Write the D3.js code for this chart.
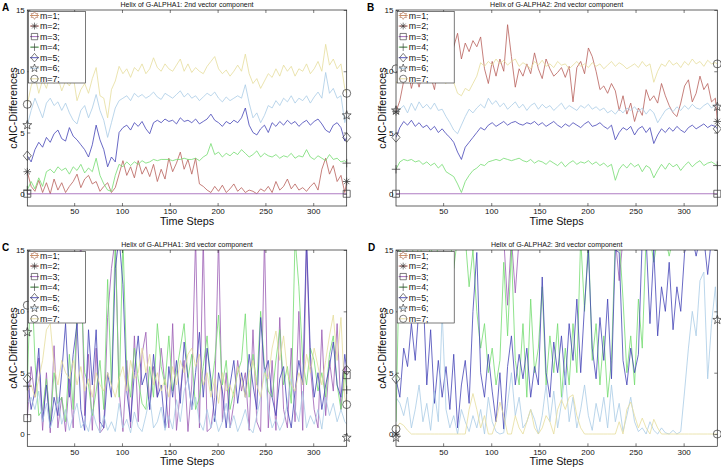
<!DOCTYPE html>
<html>
<head>
<meta charset="utf-8">
<script src="https://cdn.jsdelivr.net/npm/d3@7"></script>
<style>
body { margin: 0; background: #fff; }
text { font-family: "Liberation Sans", Arial, sans-serif; }
</style>
</head>
<body>
<svg class="chart" width="721" height="468"></svg>
<script>
var timeSteps = d3.range(1, 334, 4).concat([335]);
var zeroSteps = [1, 335];
var zeroLine = [0, 0];

var seriesNames = ["m=1;", "m=2;", "m=3;", "m=4;", "m=5;", "m=6;", "m=7;"];
var markerKinds = ["hexagram", "asterisk", "square", "plus", "diamond", "pentagram", "circle"];
var lineColors = ["#c98a5e", "#b8605a", "#9a5cb4", "#74dc70", "#4444b6", "#a9cbe6", "#e6dd9c"];
var xTicks = [50, 100, 150, 200, 250, 300];
var yTicks = [0, 5, 10, 15];
var titles = ["Helix of G-ALPHA1: 2nd vector component", "Helix of G-ALPHA2: 2nd vector component",
              "Helix of G-ALPHA1: 3rd vector component", "Helix of G-ALPHA2: 3rd vector component"];
var letters = ["A", "B", "C", "D"];

// panel A
var aM2 = [1.8, 0.6, 0.2, 1.1, 0.1, 0.9, 0.0, 1.2, 0.3, 0.9,
           0.1, 0.6, 1.0, 1.6, 0.5, 1.2, 1.5, 0.8, 1.0, 0.2,
           0.6, 0.9, 0.1, 0.5, 1.6, 2.7, 1.5, 2.2, 1.3, 2.7,
           1.6, 2.2, 1.4, 2.4, 1.0, 2.0, 1.2, 2.9, 1.8, 2.5,
           3.4, 2.0, 2.8, 1.6, 2.9, 0.8, 0.6, 0.3, 0.1, 0.6,
           0.2, 0.7, 0.1, 0.4, 0.8, 0.2, 0.5, 0.1, 0.3, 0.2,
           0.0, 0.4, 0.2, 0.6, 0.1, 1.0, 0.3, 0.6, 1.2, 0.4,
           0.8, 0.3, 0.5, 0.2, 0.6, 0.9, 0.3, 2.0, 2.9, 1.6,
           2.3, 1.0, 1.5, 0.1, 1.0];
var aM4 = [0.3, 1.0, 0.4, 1.3, 0.6, 1.8, 2.0, 1.7, 2.2, 1.9,
           2.1, 1.6, 2.2, 1.9, 2.4, 1.7, 2.1, 1.8, 2.9, 1.5,
           0.8, 0.3, 0.2, 1.5, 2.4, 2.2, 2.6, 2.3, 2.6, 2.4,
           2.7, 2.5, 2.6, 2.8, 2.7, 2.8, 2.8, 2.8, 2.7, 2.8,
           2.8, 2.9, 2.8, 2.8, 2.9, 2.7, 3.0, 3.2, 4.1, 3.2,
           3.4, 3.0, 3.3, 3.1, 3.4, 3.2, 3.6, 3.3, 3.0, 3.2,
           3.5, 3.0, 3.3, 3.1, 3.0, 3.2, 2.9, 3.1, 3.0, 3.3,
           2.9, 3.1, 3.0, 3.6, 3.0, 2.8, 3.1, 2.9, 2.7, 3.2,
           2.8, 2.9, 2.6, 2.7, 2.5];
var aM5 = [3.1, 2.6, 3.6, 4.2, 3.8, 4.6, 4.2, 4.9, 5.2, 4.5,
           4.3, 5.4, 4.7, 4.4, 4.0, 3.6, 3.0, 4.0, 5.6, 4.4,
           3.6, 2.2, 3.0, 2.6, 5.0, 5.4, 5.6, 5.2, 5.8, 5.5,
           5.9, 5.3, 4.9, 5.8, 6.0, 5.8, 6.1, 5.9, 6.0, 5.7,
           6.2, 5.9, 6.0, 5.8, 6.1, 5.7, 5.9, 6.1, 6.5, 6.0,
           5.8, 5.5, 5.9, 5.7, 6.0, 5.8, 6.2, 7.0, 5.6, 5.0,
           4.8, 5.3, 5.6, 5.0, 5.8, 5.5, 5.9, 5.6, 6.0, 5.7,
           5.9, 5.5, 5.8, 6.0, 5.6, 5.9, 6.1, 5.7, 5.2, 5.0,
           5.6, 5.8, 5.4, 4.3, 4.6];
var aM6 = [5.6, 6.8, 7.8, 7.0, 6.2, 7.4, 7.8, 7.2, 7.5, 6.8,
           7.4, 6.6, 6.0, 5.7, 6.8, 7.2, 6.2, 7.0, 8.1, 6.8,
           6.0, 4.6, 5.8, 7.0, 7.6, 7.8, 8.0, 7.6, 8.2, 7.9,
           8.1, 7.8, 8.0, 8.3, 7.9, 7.7, 8.2, 8.0, 7.8, 8.1,
           8.4, 7.9, 8.2, 7.8, 8.0, 7.6, 7.9, 8.2, 8.0, 8.3,
           7.8, 7.5, 7.9, 7.6, 7.8, 8.0, 7.8, 8.9, 7.4, 6.2,
           6.6, 5.8, 6.4, 7.2, 7.0, 7.6, 7.2, 7.8, 7.5, 8.0,
           7.4, 7.8, 7.6, 8.0, 7.4, 7.9, 8.3, 7.8, 9.9, 8.2,
           8.6, 7.8, 8.0, 5.8, 6.4];
var aM7 = [7.3, 8.8, 9.6, 8.2, 9.3, 8.6, 9.8, 9.0, 9.5, 8.4,
           9.2, 8.8, 9.6, 7.6, 8.5, 9.0, 8.2, 9.4, 10.3, 8.0,
           7.8, 6.2, 8.5, 9.2, 10.4, 9.8, 10.2, 9.5, 10.3, 10.0,
           10.6, 9.8, 10.2, 11.1, 10.3, 10.0, 10.6, 10.2, 10.0, 10.5,
           11.0, 10.0, 10.6, 9.9, 10.3, 10.0, 9.8, 10.4, 10.8, 11.2,
           10.2, 9.8, 10.1, 9.6, 10.0, 10.5, 10.0, 11.4, 9.8, 9.0,
           9.4, 8.6, 9.2, 9.8, 9.5, 10.2, 9.6, 10.5, 10.0, 10.4,
           9.6, 10.2, 10.0, 10.6, 9.8, 10.2, 10.8, 10.0, 12.2, 10.5,
           11.0, 10.2, 10.6, 8.6, 8.2];
var aStart = [null, 1.8, 0, 0.3, 3.1, 5.6, 7.3];
var aEnd = [null, 1.0, 0, 2.5, 4.6, 6.4, 8.2];

// panel B
var bM2 = [6.7, 7.6, 9.2, 10.3, 8.6, 9.8, 8.7, 10.0, 9.1, 9.6,
           8.5, 10.6, 9.2, 12.4, 10.0, 12.0, 13.1, 11.0, 12.3, 11.6,
           12.5, 12.0, 12.8, 10.2, 9.0, 10.8, 9.6, 11.0, 10.0, 13.8,
           11.2, 8.7, 10.2, 9.6, 10.6, 9.8, 11.5, 10.2, 9.4, 11.0,
           10.2, 9.6, 9.9, 10.3, 9.5, 10.4, 7.5, 10.3, 10.8, 9.8,
           11.9, 11.2, 10.0, 8.5, 8.8, 8.2, 9.0, 8.4, 6.8, 8.0,
           6.5, 7.4, 5.9, 7.0, 6.4, 8.5, 7.6, 8.0, 7.4, 9.0,
           8.0, 7.2, 6.6, 6.3, 7.4, 8.8, 9.3, 7.5, 8.2, 9.6,
           8.5, 9.0, 7.5, 7.8, 6.0];
var bM4 = [2.0, 2.6, 2.8, 2.7, 2.8, 2.6, 2.7, 2.4, 2.6, 2.3,
           2.5, 2.1, 2.4, 1.8, 1.6, 1.4, 0.8, 0.1, 1.0, 1.5,
           1.9, 2.1, 2.4, 2.3, 2.6, 2.7, 2.8, 2.7, 2.9, 2.8,
           2.7, 2.8, 2.9, 2.7, 2.6, 2.8, 2.5, 2.7, 2.6, 2.4,
           2.7, 2.5, 2.3, 2.6, 2.2, 2.5, 2.7, 2.4, 2.6, 2.5,
           2.7, 2.4, 2.6, 2.3, 2.5, 2.2, 2.4, 1.1, 2.0, 2.4,
           2.1, 2.5, 2.2, 2.4, 1.8, 2.3, 2.1, 1.3, 1.9, 2.4,
           2.0, 2.5, 2.2, 2.4, 1.9, 2.3, 2.6, 2.2, 2.5, 2.7,
           2.3, 2.5, 2.6, 2.4, 2.3];
var bM5 = [4.6, 5.4, 5.9, 5.6, 6.0, 5.5, 5.8, 5.4, 5.6, 5.2,
           5.5, 5.0, 5.3, 4.9, 4.6, 4.2, 3.4, 2.8, 3.8, 4.2,
           4.6, 5.0, 5.4, 5.2, 5.6, 5.8, 5.5, 5.7, 5.9, 5.6,
           5.8, 5.9, 5.7, 5.6, 5.8, 5.7, 5.9, 5.6, 5.8, 5.5,
           5.7, 5.9, 5.6, 5.4, 5.7, 5.5, 5.8, 5.6, 5.4, 5.7,
           5.9, 5.5, 5.6, 5.8, 5.5, 5.3, 5.6, 4.4, 5.0, 5.4,
           5.2, 5.5, 4.8, 5.3, 5.5, 5.0, 5.4, 4.1, 4.8, 5.3,
           5.0, 5.4, 5.1, 5.5, 5.2, 5.0, 5.4, 5.6, 5.3, 5.5,
           5.7, 5.4, 5.6, 5.5, 5.3];
var bM6 = [6.7, 6.9, 7.2, 6.6, 7.4, 6.8, 7.5, 7.0, 7.3, 6.9,
           7.4, 6.8, 6.9, 6.3, 5.8, 5.2, 4.9, 5.6, 6.3, 6.9,
           6.6, 7.0, 7.3, 7.0, 7.8, 7.3, 7.6, 7.1, 7.4, 6.9,
           7.2, 7.5, 7.0, 7.3, 6.8, 7.2, 7.4, 6.9, 7.3, 7.0,
           7.2, 6.8, 7.1, 7.4, 6.9, 7.2, 7.0, 6.8, 7.2, 7.0,
           7.3, 6.9, 7.1, 6.8, 7.0, 6.6, 6.8, 6.5, 6.9, 6.6,
           7.0, 6.8, 7.1, 6.7, 7.0, 6.5, 6.9, 6.6, 5.8, 6.3,
           6.8, 7.0, 6.7, 7.1, 6.8, 7.2, 6.9, 7.3, 7.0, 6.9,
           7.2, 7.4, 7.0, 7.3, 7.1];
var bM7 = [9.0, 9.6, 9.3, 9.8, 9.5, 9.9, 9.4, 9.7, 9.5, 9.8,
           9.4, 9.6, 9.2, 9.0, 9.4, 9.1, 8.2, 8.0, 8.6, 8.4,
           9.0, 9.6, 10.7, 10.4, 10.8, 10.5, 11.0, 10.6, 10.9, 10.5,
           10.8, 11.0, 10.4, 10.7, 10.5, 10.2, 10.8, 10.5, 10.9, 10.4,
           10.6, 10.3, 10.8, 10.5, 10.6, 10.2, 10.5, 10.8, 10.4, 10.6,
           10.3, 10.7, 10.4, 10.6, 10.2, 10.5, 10.8, 10.4, 10.7, 10.5,
           10.2, 10.4, 10.6, 10.3, 10.8, 10.4, 10.6, 9.1, 10.0, 10.6,
           10.4, 10.9, 10.5, 10.7, 10.3, 10.8, 10.5, 11.0, 10.6, 10.8,
           10.4, 10.9, 10.6, 10.7, 10.6];
var bStart = [null, 6.7, 0, 2.0, 4.6, 6.8, 10.2];
var bEnd = [null, 5.9, 0, 2.3, 5.3, 7.1, 10.6];

// panel C
var cM3 = [1.3, 5.5, 3.0, 6.2, 0.3, 5.0, 0.1, 7.2, 0.5, 3.0,
           0.2, 4.5, 0.5, 9.0, 16.0, 1.5, 6.5, 0.3, 7.0, 0.1,
           0.5, 9.5, 13.5, 16.0, 3.5, 0.2, 6.0, 0.5, 8.0, 1.0,
           6.5, 8.3, 2.0, 5.5, 3.0, 7.0, 4.0, 0.5, 9.0, 0.3,
           3.5, 6.0, 0.2, 4.0, 16.0, 0.5, 16.0, 0.2, 0.5, 3.0,
           16.0, 1.0, 5.0, 0.5, 2.5, 6.0, 3.5, 5.0, 0.3, 8.5,
           1.0, 0.2, 16.0, 0.5, 6.0, 0.3, 9.5, 2.0, 0.5, 7.0,
           1.0, 10.0, 0.3, 15.5, 5.5, 2.0, 0.5, 8.5, 1.5, 6.0,
           3.5, 9.0, 2.0, 5.5, 4.8];
var cM4 = [3.9, 14.0, 6.0, 1.5, 2.0, 4.5, 1.0, 5.0, 2.5, 3.0,
           1.0, 6.5, 2.0, 10.0, 12.0, 5.0, 4.0, 1.5, 3.5, 6.0,
           2.0, 12.6, 4.0, 16.0, 3.0, 16.0, 5.0, 3.0, 7.0, 4.5,
           2.5, 2.0, 5.5, 3.0, 9.0, 5.5, 4.0, 8.0, 3.5, 5.0,
           7.0, 9.0, 4.5, 6.5, 2.0, 3.0, 5.5, 8.0, 3.5, 6.0,
           9.7, 4.0, 6.0, 2.0, 3.5, 5.0, 6.0, 9.8, 3.0, 6.5,
           4.0, 10.0, 5.5, 3.5, 3.0, 6.0, 8.5, 4.0, 5.5, 2.5,
           16.0, 12.0, 6.0, 4.0, 7.0, 6.0, 3.5, 5.0, 3.0, 6.5,
           8.0, 4.0, 2.0, 5.0, 3.6];
var cM5 = [4.5, 2.0, 3.5, 7.0, 1.0, 4.0, 0.5, 3.0, 1.5, 5.0,
           9.0, 3.0, 6.5, 9.0, 2.0, 0.3, 8.5, 4.0, 8.5, 1.0,
           0.5, 5.0, 3.0, 13.5, 16.0, 12.2, 3.5, 1.0, 5.0, 8.0,
           4.0, 5.0, 2.0, 6.5, 3.0, 4.0, 0.5, 5.5, 3.0, 6.0,
           2.5, 7.5, 4.5, 2.0, 5.0, 8.3, 3.0, 7.0, 4.5, 1.0,
           5.0, 3.5, 0.5, 4.0, 6.0, 2.5, 5.0, 3.0, 6.5, 4.0,
           2.0, 9.5, 5.0, 6.0, 3.0, 1.5, 4.5, 5.5, 2.0, 0.5,
           3.5, 6.0, 4.0, 16.0, 6.5, 3.0, 5.0, 2.0, 4.0, 5.5,
           7.5, 4.0, 3.0, 6.5, 5.2];
var cM6 = [2.5, 3.0, 2.0, 3.5, 1.0, 2.5, 0.5, 1.5, 3.0, 0.8,
           2.0, 0.3, 1.5, 2.5, 0.5, 1.0, 0.2, 2.0, 0.8, 0.1,
           1.5, 0.3, 1.0, 0.2, 2.5, 0.5, 1.2, 0.1, 1.8, 0.6,
           0.2, 1.5, 3.0, 0.5, 1.0, 2.2, 0.3, 1.5, 0.4, 2.8,
           1.0, 3.5, 4.6, 2.0, 3.0, 1.0, 0.3, 2.0, 0.5, 1.5,
           0.2, 1.0, 2.5, 0.5, 1.5, 0.2, 1.0, 2.0, 0.5, 0.1,
           1.5, 3.0, 5.3, 2.0, 0.5, 1.2, 0.3, 1.0, 2.5, 4.5,
           2.0, 1.0, 3.5, 0.5, 1.5, 0.8, 2.0, 0.4, 3.0, 1.5,
           2.5, 1.0, 2.0, 1.0, 0.8];
var cM7 = [3.5, 4.0, 3.0, 4.5, 6.0, 8.5, 9.0, 5.5, 4.0, 6.0,
           5.0, 4.5, 6.0, 4.0, 5.5, 3.5, 4.5, 3.0, 5.0, 4.0,
           3.5, 5.0, 4.0, 3.0, 4.5, 5.5, 3.5, 6.0, 4.5, 5.0,
           7.0, 5.0, 6.5, 4.0, 5.0, 3.5, 4.5, 3.0, 5.5, 4.0,
           6.0, 5.0, 6.5, 7.0, 5.5, 6.5, 4.0, 5.0, 3.0, 4.5,
           2.5, 5.0, 3.5, 4.0, 3.0, 5.5, 4.5, 3.0, 5.0, 6.0,
           4.0, 3.0, 5.0, 4.5, 7.0, 8.4, 6.0, 8.0, 5.0, 4.0,
           3.5, 5.0, 4.0, 6.5, 5.0, 7.0, 5.5, 4.0, 6.0, 8.0,
           9.7, 6.0, 9.5, 3.0, 2.4];
var cStart = [null, null, 1.3, 3.9, 4.5, 8.3, 10.5];
var cEnd = [null, null, 4.8, 3.6, 5.2, -0.3, 2.4];

// panel D
var dM3 = [16, 16, 16, 16, 16, 16, 16, 16, 16, 16,
           16, 16, 16, 16, 16, 16, 16, 16, 16, 16,
           16, 16, 16, 16, 16, 16, 16, 16, 16, 10.5,
           16, 11.5, 16, 16, 16, 16, 16, 16, 16, 16,
           16, 16, 16, 16, 16, 16, 16, 16, 16, 16,
           16, 16, 16, 16, 16, 16, 16, 16, 12.5, 16,
           16, 16, 16, 16, 16, 16, 16, 16, 16, 16,
           16, 16, 16, 16, 16, 16, 16, 16, 16, 16,
           16, 16, 16, 16, 16];
var dM4 = [1.0, 16, 10, 16, 16, 13, 16, 14, 12, 16,
           12, 16, 16, 16, 16, 13.5, 16, 16, 16, 12,
           15, 10, 7, 9, 5, 7, 4, 6, 14, 8,
           15, 6, 4, 9, 3, 11, 5, 7, 12, 4,
           8, 5, 9, 3, 7, 4, 9, 5, 16, 10,
           16, 6, 9, 4, 8, 3, 6, 16, 16, 11,
           5, 8, 4, 11, 7, 16, 16, 14, 16, 16,
           16, 14.5, 16, 16, 16, 16, 16, 16, 16, 16,
           16, 16, 16, 16, 16];
var dM5 = [4.5, 3.0, 7.0, 5.5, 9.0, 6.0, 10.5, 12.0, 4.0, 8.5,
           2.5, 6.0, 3.0, 5.5, 2.0, 6.5, 0.5, 4.0, 6.0, 2.5,
           10.0, 14.8, 5.0, 3.0, 6.5, 3.5, 1.0, 5.0, 0.4, 5.5,
           8.0, 4.0, 6.5, 4.5, 7.0, 3.0, 5.5, 4.0, 12.8, 5.0,
           3.0, 7.5, 5.0, 8.0, 4.0, 9.0, 6.0, 11.0, 5.0, 10.5,
           15.0, 7.0, 4.5, 9.5, 6.0, 11.0, 4.5, 15.0, 14.8, 6.0,
           4.0, 7.0, 5.0, 6.5, 16.0, 16.0, 9.0, 15.0, 8.0, 12.0,
           10.0, 14.0, 8.5, 12.0, 10.0, 14.8, 16.0, 16.0, 14.5, 16.0,
           16.0, 13.0, 16.0, 16.0, 16.0];
var dM6 = [3.0, 2.5, 1.5, 3.0, 0.5, 2.0, 4.0, 1.0, 2.5, 0.3,
           3.5, 1.0, 9.9, 2.0, 0.5, 1.5, 0.0, 2.0, 1.0, 0.2,
           1.5, 0.5, 2.0, 0.0, 3.0, 1.0, 0.2, 0.0, 0.1, 2.5,
           5.0, 1.5, 3.0, 0.5, 1.0, 2.0, 1.2, 0.0, 1.5, 4.0,
           1.0, 3.5, 0.5, 2.5, 5.0, 1.0, 3.0, 0.5, 2.0, 4.0,
           1.5, 0.3, 2.5, 1.0, 3.0, 0.5, 4.0, 1.0, 2.5, 0.2,
           1.5, 3.0, 1.0, 0.2, 0.5, 0.0, 1.0, 0.3, 0.0, 0.5,
           0.1, 0.0, 0.3, 0.0, 0.2, 3.5, 7.0, 10.0, 8.0, 12.5,
           13.2, 4.5, 9.0, 12.0, 9.3];
var dM7 = [0.5, 0.9, 0.7, 0.3, 0.0, 0.0, 0.0, 0.0, 0.0, 0.0,
           0.0, 0.0, 0.0, 0.0, 0.0, 0.0, 0.0, 0.0, 0.0, 2.0,
           3.3, 2.0, 0.5, 1.5, 0.0, 0.0, 1.0, 2.6, 1.5, 0.0,
           0.0, 1.5, 0.5, 0.0, 1.0, 2.0, 0.5, 0.0, 0.5, 1.5,
           1.0, 0.0, 2.0, 2.8, 2.0, 3.0, 3.2, 1.5, 0.5, 0.0,
           0.0, 0.0, 0.0, 0.0, 0.0, 0.0, 0.0, 0.0, 1.0, 0.0,
           2.0, 2.6, 1.5, 0.5, 1.3, 0.5, 0.0, 1.2, 0.5, 0.0,
           0.0, 0.0, 0.0, 0.0, 0.0, 0.0, 0.0, 0.0, 0.0, 0.0,
           0.0, 0.0, 0.0, 0.0, 0.0];
var dStart = [null, 0.0, null, null, 4.5, -0.3, 0.4];
var dEnd = [null, null, null, null, null, 9.3, 0.0];

// ---- table built from the arrays above ----
var panels = [
    {series: [null, aM2, zeroLine, aM4, aM5, aM6, aM7], start: aStart, end: aEnd},
    {series: [null, bM2, zeroLine, bM4, bM5, bM6, bM7], start: bStart, end: bEnd},
    {series: [null, null, cM3, cM4, cM5, cM6, cM7], start: cStart, end: cEnd},
    {series: [null, null, dM3, dM4, dM5, dM6, dM7], start: dStart, end: dEnd}
];

var layout = [
    {x0: 27.3, x1: 346.7, y0: 10, y1: 206, lx: 2, ly: 11},
    {x0: 396, x1: 717.3, y0: 10, y1: 206, lx: 367, ly: 11},
    {x0: 27.3, x1: 346.7, y0: 250, y1: 446.3, lx: 2, ly: 251},
    {x0: 396, x1: 717.3, y0: 250, y1: 446.3, lx: 368, ly: 251}
];

function starPath(n, ro, ri) {
    var p = [];
    for (var k = 0; k < 2 * n; k++) {
        var r = k % 2 ? ri : ro, a = Math.PI * k / n - Math.PI / 2;
        p.push([(r * Math.cos(a)).toFixed(2), (r * Math.sin(a)).toFixed(2)]);
    }
    return "M" + p.join("L") + "Z";
}

function markerPath(kind) {
    switch (kind) {
        case "hexagram": return starPath(6, 4.3, 2.5);
        case "pentagram": return starPath(5, 4.7, 1.9);
        case "asterisk": return "M-3.8,0H3.8M0,-3.8V3.8M-2.7,-2.7L2.7,2.7M-2.7,2.7L2.7,-2.7";
        case "square": return "M-3.5,-3.5H3.5V3.5H-3.5Z";
        case "plus": return "M-4.2,0H4.2M0,-4.2V4.2";
        case "diamond": return "M0,-4.8L4,0L0,4.8L-4,0Z";
        default: return d3.symbol(d3.symbolCircle, Math.PI * 16)();
    }
}

var chart = d3.select(".chart");
var defs = chart.append("defs");

panels.forEach(function(p, k) {
    var box = layout[k];
    var x = d3.scaleLinear().domain([1, 335]).range([box.x0, box.x1]);
    var y = d3.scaleLinear().domain([-1, 15]).range([box.y1, box.y0]);

    defs.append("clipPath").attr("id", "clip" + k)
        .append("rect")
        .attr("x", box.x0).attr("y", box.y0)
        .attr("width", box.x1 - box.x0).attr("height", box.y1 - box.y0);

    var g = chart.append("g").attr("class", "panel");

    // lines
    var lines = g.append("g").attr("clip-path", "url(#clip" + k + ")");
    p.series.forEach(function(vals, m) {
        if (!vals) return;
        var steps = vals.length === zeroSteps.length ? zeroSteps : timeSteps;
        var line = d3.line()
            .x(function(d, i) { return x(steps[i]); })
            .y(function(d) { return y(d); });
        lines.append("path")
            .datum(vals)
            .attr("d", line)
            .attr("fill", "none")
            .attr("stroke", lineColors[m])
            .attr("stroke-width", 0.8)
            .attr("stroke-linejoin", "round");
    });

    // axes, inward ticks on all four sides
    g.append("g").attr("transform", "translate(0," + box.y1 + ")")
        .call(d3.axisBottom(x).tickValues(xTicks).tickSizeInner(-3).tickSizeOuter(0).tickPadding(2.6));
    g.append("g").attr("transform", "translate(" + box.x0 + ",0)")
        .call(d3.axisLeft(y).tickValues(yTicks).tickSizeInner(-3).tickSizeOuter(0).tickPadding(2.5));
    g.append("g").attr("transform", "translate(0," + box.y0 + ")")
        .call(d3.axisTop(x).tickValues(xTicks).tickSizeInner(-3).tickSizeOuter(0).tickFormat(""));
    g.append("g").attr("transform", "translate(" + box.x1 + ",0)")
        .call(d3.axisRight(y).tickValues(yTicks).tickSizeInner(-3).tickSizeOuter(0).tickFormat(""));
    g.selectAll(".domain").remove();
    g.selectAll(".tick line").attr("stroke", "#222").attr("stroke-width", 0.6);
    g.selectAll(".tick text")
        .attr("fill", "#111")
        .style("font-family", '"Liberation Sans", Arial, sans-serif')
        .style("font-size", "8px");

    g.append("rect")
        .attr("x", box.x0).attr("y", box.y0)
        .attr("width", box.x1 - box.x0).attr("height", box.y1 - box.y0)
        .attr("fill", "none").attr("stroke", "#222").attr("stroke-width", 0.7);

    // end markers
    var marks = g.append("g");
    [[p.start, 1], [p.end, 335]].forEach(function(pair) {
        pair[0].forEach(function(v, m) {
            if (v === null || v > 15) return;
            marks.append("path")
                .attr("d", markerPath(markerKinds[m]))
                .attr("transform", "translate(" + x(pair[1]) + "," + y(v) + ")")
                .attr("fill", "none")
                .attr("stroke", "#333")
                .attr("stroke-width", 0.7);
        });
    });

    // legend
    var lg = g.append("g").attr("transform", "translate(" + (box.x0 + 1.2) + "," + (box.y0 + 1.5) + ")");
    lg.append("rect")
        .attr("width", 57).attr("height", 71.5)
        .attr("fill", "#fff").attr("stroke", "#222").attr("stroke-width", 0.6);
    seriesNames.forEach(function(name, m) {
        var row = lg.append("g").attr("transform", "translate(0," + (4 + m * 10.55) + ")");
        row.append("line")
            .attr("x1", 1.5).attr("x2", 10.5)
            .attr("stroke", lineColors[m]).attr("stroke-width", 0.9);
        row.append("path")
            .attr("d", markerPath(markerKinds[m]))
            .attr("transform", "translate(6,0) scale(0.9)")
            .attr("fill", "none")
            .attr("stroke", m === 0 ? "#b07050" : "#333")
            .attr("stroke-width", 0.7);
        row.append("text")
            .attr("x", 11.5).attr("y", 3.2)
            .attr("font-size", "8.8px")
            .attr("fill", "#111")
            .text(name);
    });

    // texts
    g.append("text")
        .attr("x", (box.x0 + box.x1) / 2).attr("y", box.y0 - 3)
        .attr("text-anchor", "middle")
        .attr("font-size", "7px")
        .attr("fill", "#111")
        .text(titles[k]);
    g.append("text")
        .attr("x", (box.x0 + box.x1) / 2).attr("y", box.y1 + 19)
        .attr("text-anchor", "middle")
        .attr("font-size", "10.8px")
        .attr("fill", "#111")
        .text("Time Steps");
    g.append("text")
        .attr("transform", "translate(" + (box.x0 - 10) + "," + ((box.y0 + box.y1) / 2) + ") rotate(-90)")
        .attr("text-anchor", "middle")
        .attr("font-size", "10.8px")
        .attr("fill", "#111")
        .text("cAIC-Differences");
    g.append("text")
        .attr("x", box.lx).attr("y", box.ly)
        .attr("font-size", "10px")
        .attr("font-weight", "bold")
        .attr("fill", "#000")
        .text(letters[k]);
});
</script>
</body>
</html>
